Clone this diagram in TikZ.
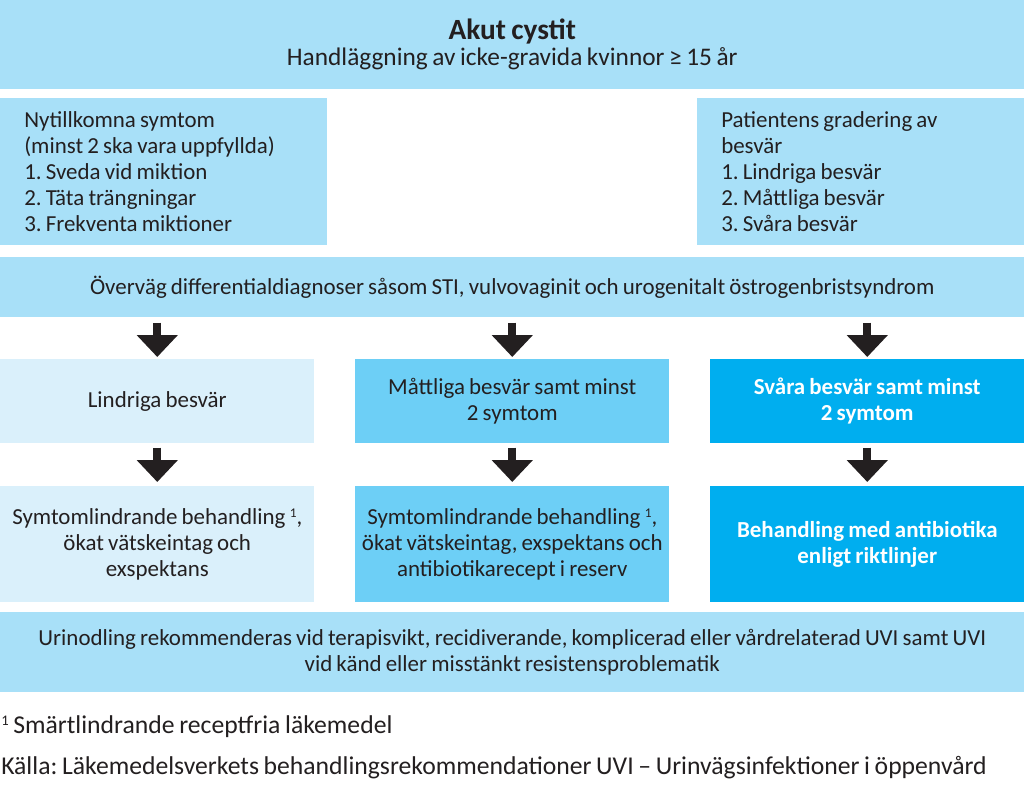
\documentclass[tikz,border=0pt]{standalone}
\usepackage{fontspec}
\setmainfont{Carlito}[WordSpace=0.8]
\usetikzlibrary{arrows.meta}
\frenchspacing

\definecolor{ljusbla}{HTML}{A8E0F8}
\definecolor{blek}{HTML}{DAF0FB}
\definecolor{mellanbla}{HTML}{6DCFF6}
\definecolor{starkbla}{HTML}{00AEEF}
\definecolor{mork}{HTML}{231F20}

\tikzset{
  ruta/.style={anchor=north west, inner sep=0pt, text=mork, align=flush center,
    font=\fontsize{17.2}{19.5}\selectfont},
  breda/.style={ruta, minimum width=768pt, text width=760pt},
  kolumn/.style={ruta, minimum width=235.5pt, text width=235.5pt},
  lista/.style={ruta, fill=ljusbla, align=flush left, inner xsep=18pt,
    text width=209.25pt, minimum height=110.25pt},
  pil/.style={mork, line width=6pt, -{Triangle[width=30pt,length=16.5pt]},
    shorten <=3.75pt, shorten >=1.5pt},
  fot/.style={anchor=west, inner sep=0pt, text=mork,
    font=\fontsize{19.25}{22}\selectfont}
}

\begin{document}
\begin{tikzpicture}[x=0.75pt, y=-0.75pt]
  \useasboundingbox (0,0) rectangle (1024,803);
  % rubrik:
  \node[breda, fill=ljusbla, minimum height=66.75pt] (titel) at (0,0)
    {{\fontsize{22}{24}\selectfont\bfseries Akut cystit}\\[0pt]
     {\fontsize{19}{21}\selectfont Handläggning av icke-gravida kvinnor ≥ 15 år}};
  % symtom och gradering:
  \node[lista] (symtom) at (0,98)
    {Nytillkomna symtom\\(minst 2 ska vara uppfyllda)\\1. Sveda vid miktion\\2. Täta trängningar\\3. Frekventa miktioner};
  \node[lista] (gradering) at (697,98)
    {Patientens gradering av\\besvär\\1. Lindriga besvär\\2. Måttliga besvär\\3. Svåra besvär};
  % differentialdiagnoser:
  \node[breda, fill=ljusbla, minimum height=45pt] (diff) at (0,257)
    {Överväg differentialdiagnoser såsom STI, vulvovaginit och urogenitalt östrogenbristsyndrom};
  % besvär:
  \node[kolumn, fill=blek, minimum height=63pt] (lindrig) at (0,359)
    {Lindriga besvär};
  \node[kolumn, fill=mellanbla, minimum height=63pt] (mattlig) at (355,359)
    {Måttliga besvär samt minst\\2 symtom};
  \node[kolumn, fill=starkbla, minimum height=63pt, text=white, font=\fontsize{17.2}{19.5}\selectfont\bfseries] (svar) at (710,359)
    {Svåra besvär samt minst\\2 symtom};
  % behandling:
  \node[kolumn, fill=blek, minimum height=87pt] (beh1) at (0,486)
    {Symtomlindrande behandling {\fontsize{10}{10}\selectfont\raisebox{5pt}{1}},\\ökat vätskeintag och\\exspektans};
  \node[kolumn, fill=mellanbla, minimum height=87pt] (beh2) at (355,486)
    {Symtomlindrande behandling {\fontsize{10}{10}\selectfont\raisebox{5pt}{1}},\\ökat vätskeintag, exspektans och\\antibiotikarecept i reserv};
  \node[kolumn, fill=starkbla, minimum height=87pt, text=white, font=\fontsize{17.2}{19.5}\selectfont\bfseries] (beh3) at (710,486)
    {Behandling med antibiotika\\enligt riktlinjer};
  % urinodling:
  \node[breda, fill=ljusbla, minimum height=60pt] (odling) at (0,612)
    {Urinodling rekommenderas vid terapisvikt, recidiverande, komplicerad eller vårdrelaterad UVI samt UVI\\vid känd eller misstänkt resistensproblematik};
  % fotnoter:
  \node[fot] (not) at (1,727) {{\fontsize{11}{11}\selectfont\raisebox{6pt}{1}} Smärtlindrande receptfria läkemedel};
  \node[fot] (kalla) at (1,768) {Källa: Läkemedelsverkets behandlingsrekommendationer UVI – Urinvägsinfektioner i öppenvård};
  % pilar:
  \draw[pil] (diff.south -| lindrig.north) -- (lindrig.north);
  \draw[pil] (diff.south -| mattlig.north) -- (mattlig.north);
  \draw[pil] (diff.south -| svar.north) -- (svar.north);
  \draw[pil, shorten <=3pt, shorten >=3pt] (lindrig) -- (beh1);
  \draw[pil, shorten <=3pt, shorten >=3pt] (mattlig) -- (beh2);
  \draw[pil, shorten <=3pt, shorten >=3pt] (svar) -- (beh3);
\end{tikzpicture}
\end{document}
